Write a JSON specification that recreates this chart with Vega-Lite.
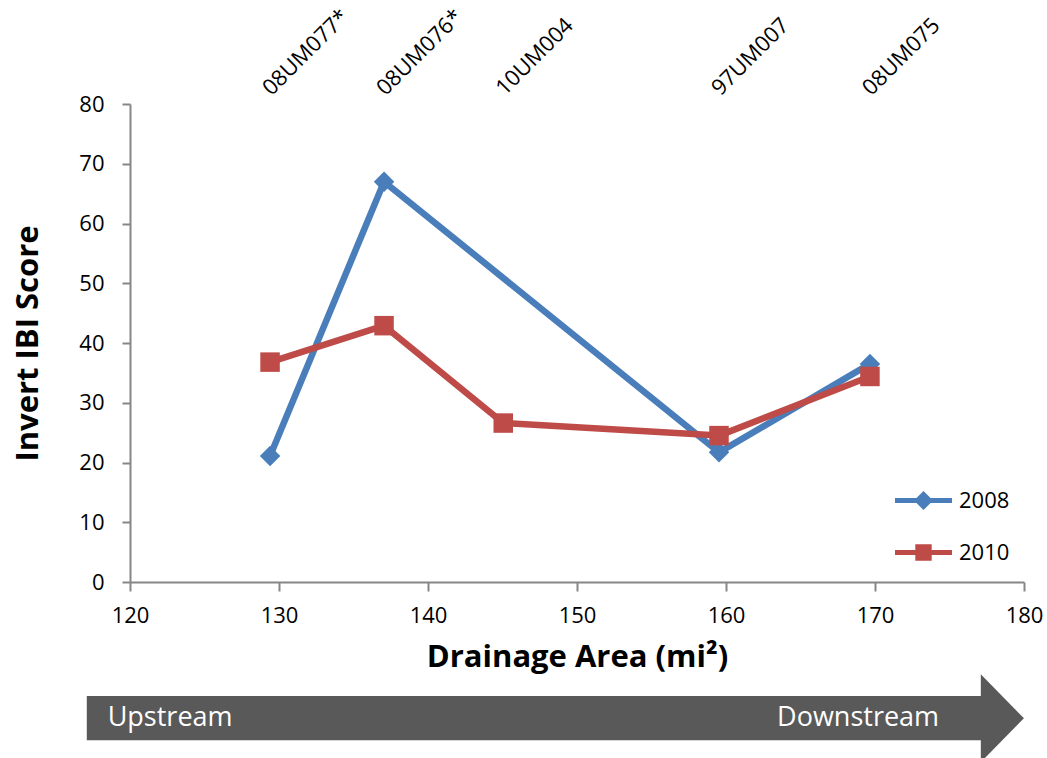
{
  "$schema": "https://vega.github.io/schema/vega-lite/v6.json",
  "autosize": {"type": "none"},
  "width": 894,
  "height": 478,
  "padding": {"left": 130, "top": 104, "right": 23, "bottom": 176},
  "background": "white",
  "config": {
    "view": {"stroke": null},
    "font": "Open Sans",
    "axis": {"grid": false, "domainColor": "#868686", "tickColor": "#868686", "domainWidth": 2, "tickWidth": 2, "labelColor": "#000000", "titleColor": "#000000", "labelFontSize": 22, "titleFontSize": 31, "titleFontWeight": "bold", "labelFont": "Open Sans", "titleFont": "Open Sans"}
  },
  "datasets": {
    "scores": [
      {"site": "08UM077*", "area": 129.4, "year": "2008", "score": 21.1},
      {"site": "08UM076*", "area": 137.05, "year": "2008", "score": 67.0},
      {"site": "97UM007", "area": 159.53, "year": "2008", "score": 21.7},
      {"site": "08UM075", "area": 169.66, "year": "2008", "score": 36.5},
      {"site": "08UM077*", "area": 129.4, "year": "2010", "score": 36.8},
      {"site": "08UM076*", "area": 137.05, "year": "2010", "score": 42.9},
      {"site": "10UM004", "area": 145.05, "year": "2010", "score": 26.6},
      {"site": "97UM007", "area": 159.53, "year": "2010", "score": 24.5},
      {"site": "08UM075", "area": 169.66, "year": "2010", "score": 34.4}
    ],
    "sites": [
      {"site": "08UM077*", "area": 129.4},
      {"site": "08UM076*", "area": 137.05},
      {"site": "10UM004", "area": 145.05},
      {"site": "97UM007", "area": 159.53},
      {"site": "08UM075", "area": 169.66}
    ]
  },
  "layer": [
    {
      "data": {"name": "scores"},
      "mark": {"type": "line", "strokeWidth": 6.5, "strokeJoin": "round", "strokeCap": "round"},
      "encoding": {
        "x": {"field": "area", "type": "quantitative", "scale": {"domain": [120, 180], "nice": false, "zero": false},
              "axis": {"title": "Drainage Area (mi²)", "values": [120, 130, 140, 150, 160, 170, 180], "tickSize": 9, "labelPadding": 14, "titlePadding": 16, "labelFlush": false}},
        "y": {"field": "score", "type": "quantitative", "scale": {"domain": [0, 80], "nice": false},
              "axis": {"title": "Invert IBI Score", "values": [0, 10, 20, 30, 40, 50, 60, 70, 80], "tickSize": 8, "labelPadding": 18, "titlePadding": 34}},
        "color": {"field": "year", "type": "nominal",
                  "scale": {"domain": ["2008", "2010"], "range": ["#4A7EBB", "#BE4B48"]},
                  "legend": {"title": null, "orient": "none", "legendX": 776, "legendY": 379, "padding": 0,
                             "symbolSize": 900, "symbolStrokeWidth": 5, "labelFontSize": 22, "labelColor": "#000000", "labelOffset": 18, "rowPadding": 18,
                             "symbolType": {"expr": "datum.value === '2008' ? 'M-1.9,0L1.9,0M0,-0.4L0.4,0L0,0.4L-0.4,0Z' : 'M-1.9,0L1.9,0M-0.38,-0.38L0.38,-0.38L0.38,0.38L-0.38,0.38Z'"},
                             "symbolFillColor": {"expr": "datum.value === '2008' ? '#4A7EBB' : '#BE4B48'"},
                             "encoding": {"symbols": {"update": {
                               "fill": {"signal": "datum.value === '2008' ? '#4A7EBB' : '#BE4B48'"},
                               "strokeWidth": {"value": 5},
                               "strokeCap": {"value": "round"},
                               "strokeJoin": {"value": "round"}
                             }}}}},
        "detail": {"field": "year"}
      }
    },
    {
      "data": {"name": "scores"},
      "transform": [{"filter": "datum.year === '2008'"}],
      "mark": {"type": "point", "filled": true, "opacity": 1, "size": 420, "shape": "diamond"},
      "encoding": {
        "x": {"field": "area", "type": "quantitative"},
        "y": {"field": "score", "type": "quantitative"},
        "color": {"field": "year", "type": "nominal", "legend": null}
      }
    },
    {
      "data": {"name": "scores"},
      "transform": [{"filter": "datum.year === '2010'"}],
      "mark": {"type": "point", "filled": true, "opacity": 1, "size": 380, "shape": "square"},
      "encoding": {
        "x": {"field": "area", "type": "quantitative"},
        "y": {"field": "score", "type": "quantitative"},
        "color": {"field": "year", "type": "nominal", "legend": null}
      }
    },
    {
      "data": {"name": "sites"},
      "mark": {"type": "text", "angle": -45, "align": "left", "baseline": "alphabetic", "fontSize": 22, "color": "#000000", "dx": 2},
      "encoding": {
        "x": {"field": "area", "type": "quantitative"},
        "y": {"datum": 81},
        "text": {"field": "site"}
      }
    },
    {
      "data": {"values": [{}]},
      "mark": {"type": "rect", "color": "#595959"},
      "encoding": {
        "x": {"datum": 117.1}, "x2": {"datum": 177.2},
        "y": {"datum": -19.1}, "y2": {"datum": -26.5}
      }
    },
    {
      "data": {"values": [{}]},
      "mark": {"type": "point", "filled": true, "opacity": 1, "color": "#595959", "shape": "M0,-1L0.98,0L0,1Z", "size": 7744},
      "encoding": {
        "x": {"datum": 177.1}, "y": {"datum": -22.8}
      }
    },
    {
      "data": {"values": [{"label": "Upstream"}]},
      "mark": {"type": "text", "align": "left", "baseline": "middle", "fontSize": 27, "color": "#FFFFFF"},
      "encoding": {
        "x": {"datum": 118.5}, "y": {"datum": -22.8}, "text": {"field": "label"}
      }
    },
    {
      "data": {"values": [{"label": "Downstream"}]},
      "mark": {"type": "text", "align": "right", "baseline": "middle", "fontSize": 27, "color": "#FFFFFF"},
      "encoding": {
        "x": {"datum": 174.3}, "y": {"datum": -22.8}, "text": {"field": "label"}
      }
    }
  ]
}
